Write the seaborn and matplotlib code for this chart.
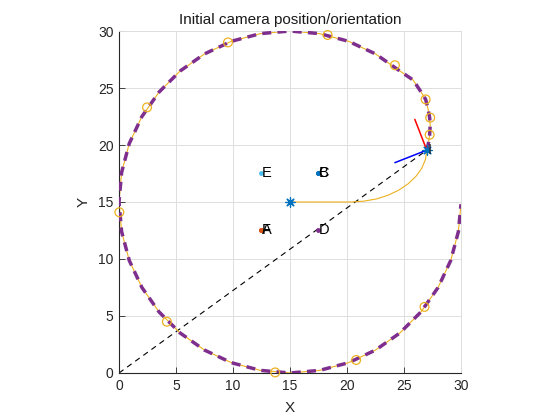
import matplotlib
matplotlib.use("Agg")
import matplotlib.pyplot as plt
import seaborn as sns
import pandas as pd

# camera path (yellow line), in drawing order
ruta_x = [15.0, 20.3, 21.46, 22.59, 23.62, 24.56, 25.38, 26.05, 26.56, 26.88, 27.0,
          27.15, 27.25, 27.3, 27.25, 27.1, 26.9, 26.4, 25.8,
          24.64, 22.5, 20.13, 17.6, 15.0, 12.4, 9.87, 7.5, 5.36, 3.51, 2.01, 0.9, 0.23, 0.0,
          0.23, 0.9, 2.01, 3.51, 5.36, 7.5, 9.87, 12.4, 15.0, 17.6, 20.13, 22.5, 24.64, 26.49,
          27.99, 29.1, 29.77, 30.0]
ruta_y = [15.0, 15.0, 15.07, 15.27, 15.6, 16.05, 16.61, 17.25, 17.96, 18.72, 19.5,
          20.2, 20.9, 21.7, 22.4, 23.2, 24.0, 24.8, 25.7,
          26.49, 27.99, 29.1, 29.77, 30.0, 29.77, 29.1, 27.99, 26.49, 24.64, 22.5, 20.13, 17.6, 15.0,
          12.4, 9.87, 7.5, 5.36, 3.51, 2.01, 0.9, 0.23, 0.0, 0.23, 0.9, 2.01, 3.51, 5.36,
          7.5, 9.87, 12.4, 14.8]

# waypoints (hollow circles)
wp_x = [27.25, 27.3, 26.9, 24.2, 18.3, 9.56, 2.46, 0.03, 4.2, 13.7, 20.8, 26.8]
wp_y = [20.9, 22.4, 24.0, 27.0, 29.65, 29.0, 23.3, 14.1, 4.5, 0.05, 1.14, 5.8]

# scene points with labels
pt_nombre = ["A", "F", "B", "C", "D", "E"]
pt_x = [12.5, 12.5, 17.5, 17.5, 17.5, 12.5]
pt_y = [12.5, 12.5, 17.5, 17.5, 12.5, 17.5]
pt_color = ["#D95319", "#D95319", "#0072BD", "#0072BD", "#7E2F8E", "#4DBEEE"]

# camera and look-at target
cam = (27.0, 19.55)
objetivo = (15.0, 15.0)
eje_rojo = (25.95, 22.25)
eje_azul = (24.2, 18.45)

df_ruta = pd.DataFrame({"x": ruta_x, "y": ruta_y})
df_cam = df_ruta.iloc[10:].copy()

sns.set_theme(style="whitegrid")
plt.rcParams["font.family"] = ["Liberation Sans", "DejaVu Sans"]

fig = plt.figure(figsize=(5.6, 4.2), dpi=100)
ax = fig.add_axes([0.2125, 0.1119, 0.6107, 0.8143])
ax.set_facecolor("white")

# line of sight from origin to the camera
ax.plot([0, cam[0]], [0, cam[1]], color="black", linestyle=(0, (5, 4)), linewidth=0.8)

sns.lineplot(data=df_ruta, x="x", y="y", sort=False, estimator=None, ax=ax,
             color="#EDB120", linewidth=0.8, zorder=2)
linea = sns.lineplot(data=df_cam, x="x", y="y", sort=False, estimator=None, ax=ax,
                     color="#7E2F8E", linewidth=2.5, zorder=3).lines[-1]
linea.set_dashes((2.6, 1.8))
sns.scatterplot(x=wp_x, y=wp_y, ax=ax, marker="o", s=40, facecolor="none",
                edgecolor="#EDB120", linewidth=0.9, clip_on=False, zorder=4)

ax.plot([cam[0], eje_rojo[0]], [cam[1], eje_rojo[1]], color="red", linewidth=1.1, zorder=4)
ax.plot([cam[0], eje_azul[0]], [cam[1], eje_azul[1]], color="blue", linewidth=1.1, zorder=4)

sns.scatterplot(x=[objetivo[0], cam[0]], y=[objetivo[1], cam[1]], ax=ax,
                marker=(8, 2, 0), s=45, color="#0072BD", linewidth=0.9, zorder=5)

for n, x, y, c in zip(pt_nombre, pt_x, pt_y, pt_color):
    ax.plot(x, y, marker=".", markersize=5, color=c, zorder=5)
    ax.text(x, y, n, fontsize=10.5, ha="left", va="center", color="black", zorder=6)
ax.text(cam[0] + 0.1, cam[1], "I", fontsize=10.5, ha="left", va="center", zorder=6)

ax.set_xlim(0, 30)
ax.set_ylim(0, 30)
ax.set_aspect("equal")
ax.set_xticks(range(0, 31, 5))
ax.set_yticks(range(0, 31, 5))
ax.grid(True, color="#dedede", linewidth=0.7)
ax.tick_params(direction="in", length=4, width=0.6, color="#262626",
               labelsize=10, labelcolor="#262626", pad=4)
ax.tick_params(top=False, right=False, bottom=True, left=True)
for lado in ["top", "right"]:
    ax.spines[lado].set_color("#dedede")
    ax.spines[lado].set_linewidth(0.7)
for lado in ["left", "bottom"]:
    ax.spines[lado].set_color("#262626")
    ax.spines[lado].set_linewidth(0.8)

ax.set_xlabel("X", fontsize=11, color="#262626", labelpad=6)
ax.set_ylabel("Y", fontsize=11, color="#262626", labelpad=5)
ax.set_title("Initial camera position/orientation", fontsize=11, color="#1a1a1a", pad=5)

fig.savefig("out.png", dpi=100)
